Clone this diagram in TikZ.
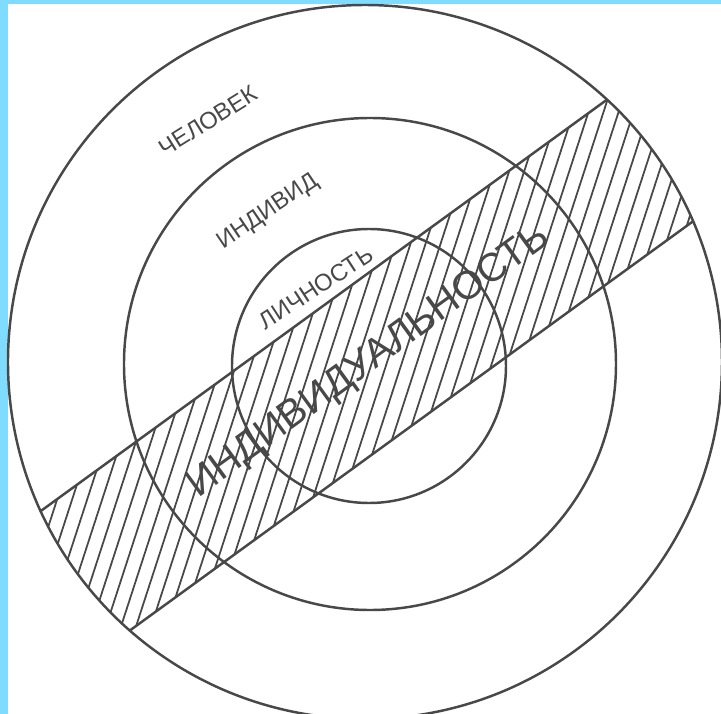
\documentclass[tikz,border=0pt]{standalone}
\usepackage{fontspec}
\setmainfont{Liberation Sans}
\definecolor{frameblue}{RGB}{128,220,255}
\definecolor{ink}{RGB}{72,72,72}

\begin{document}
\begin{tikzpicture}[x=0.02cm, y=0.02cm,
    ring/.style={draw=ink, line width=1.4pt},
    hatch/.style={draw=ink, line width=1pt},
    lbl/.style={text=ink, inner sep=0pt, font=\fontsize{13.5}{15}\selectfont}]
    \useasboundingbox (-365,-352) rectangle (356,362);
    \fill[white] (-365,-352) rectangle (356,362);
    \fill[frameblue] (-365,-352) rectangle (-357,362);
    \fill[frameblue] (-365,358) rectangle (356,362);
    \coordinate (c) at (0,0);
    \coordinate (mid) at (5,-2);
    \coordinate (in) at (4,-4);

    \begin{scope}
        \clip (c) circle[radius=357];
        \begin{scope}[rotate=36]
            \begin{scope}
                \clip (-400,-79) rectangle (400,70);
                \foreach \i in {-24,...,16}
                    \draw[hatch] (\i*24.3,-79) -- ++(36:254);
            \end{scope}
            \draw[ring] (-400,70) -- (400,70);
            \draw[ring] (-400,-79) -- (400,-79);
        \end{scope}
    \end{scope}

    \draw[ring] (c) circle[radius=357];
    \draw[ring] (mid) circle[radius=246];
    \draw[ring] (in) circle[radius=137];

    \node[lbl, rotate=32] (chelovek) at (-157,241) {ЧЕЛОВЕК};
    \node[lbl, rotate=34] (individ) at (-97,150) {ИНДИВИД};
    \node[lbl, rotate=33] (lichnost) at (-49,74) {ЛИЧНОСТЬ};
    \node[lbl, rotate=36, font=\fontsize{22.7}{25}\selectfont] (individualnost) at (4,0) {ИНДИВИДУАЛЬНОСТЬ};
\end{tikzpicture}
\end{document}
